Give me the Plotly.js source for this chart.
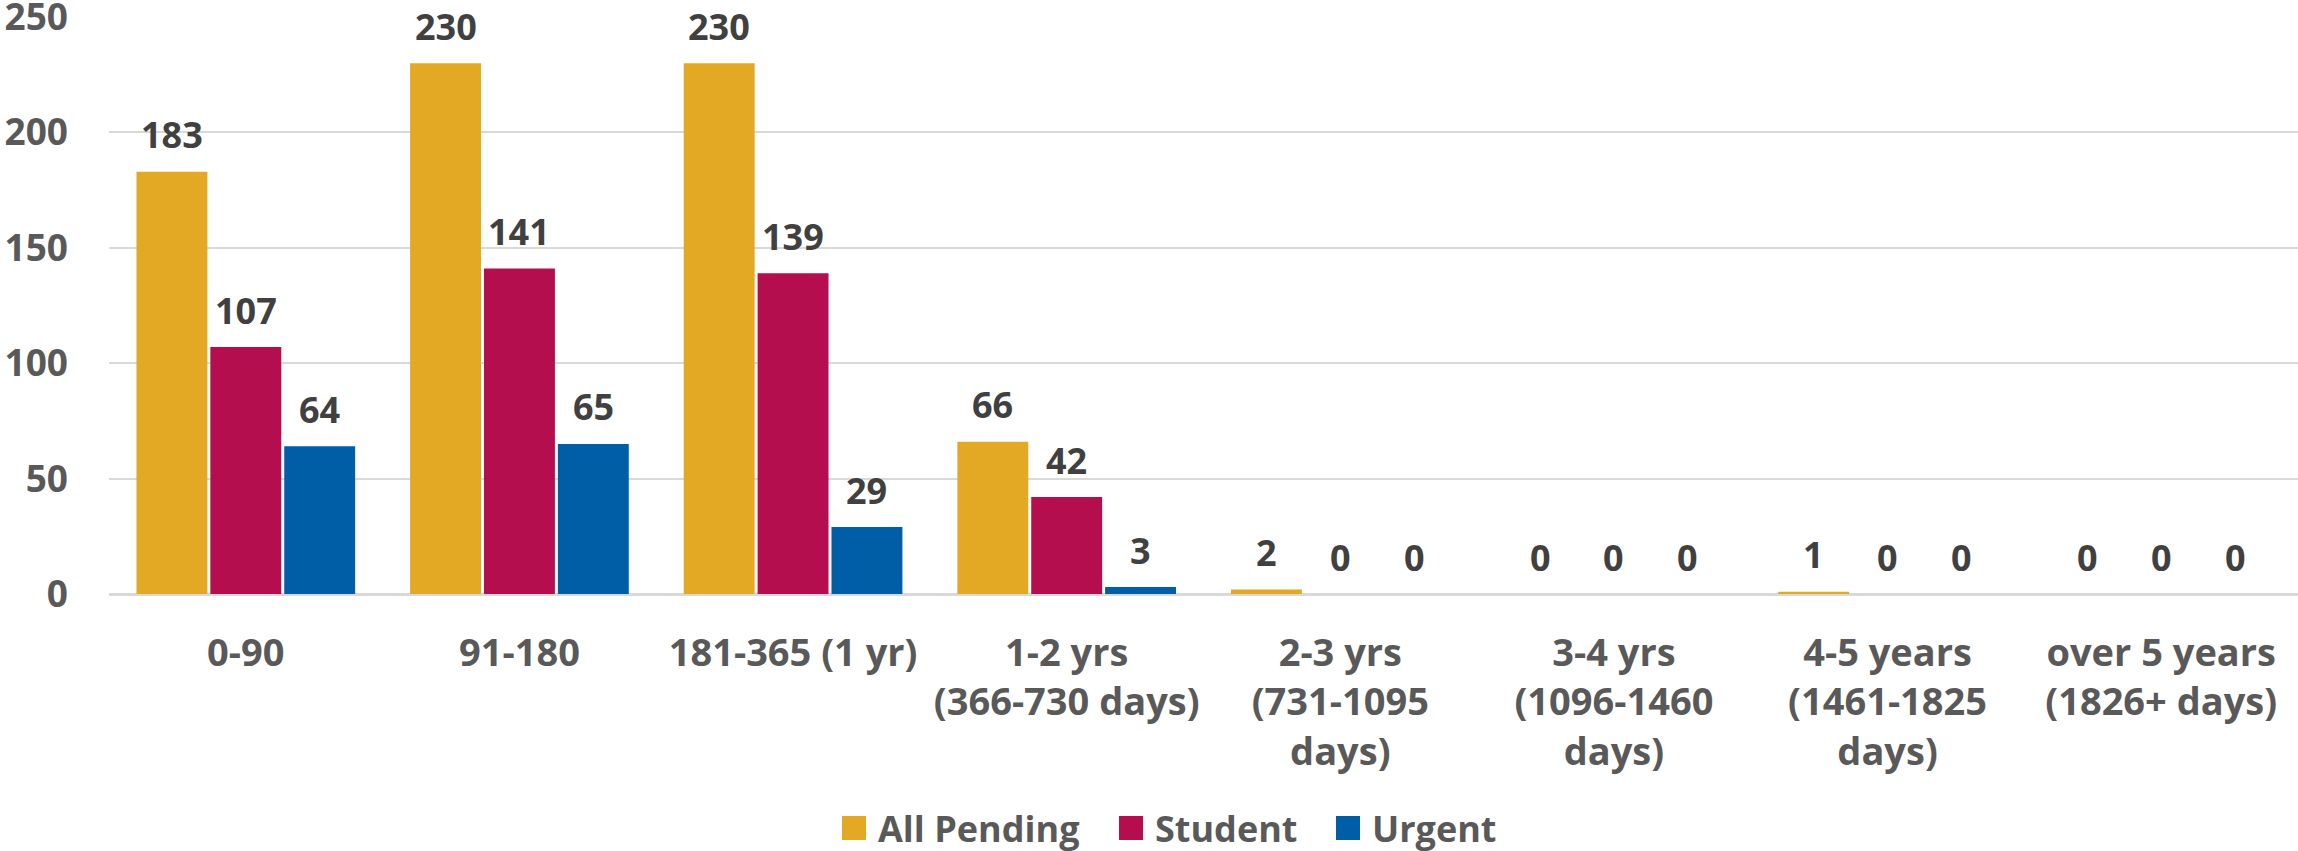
<!DOCTYPE html>
<html>
<head>
<meta charset="utf-8">
<script src="https://cdn.plot.ly/plotly-3.0.1.min.js"></script>
<style>
  html, body { margin: 0; padding: 0; background: #ffffff; }
  #chart { width: 2298px; height: 851px; }
</style>
</head>
<body>
<div id="chart"></div>
<script>
// ---- data ----
const categories = [
  "0-90",
  "91-180",
  "181-365 (1 yr)",
  "1-2 yrs<br>(366-730 days)",
  "2-3 yrs<br>(731-1095<br>days)",
  "3-4 yrs<br>(1096-1460<br>days)",
  "4-5 years<br>(1461-1825<br>days)",
  "over 5 years<br>(1826+ days)"
];
const seriesNames = ["All Pending", "Student", "Urgent"];
const allPending = [183, 230, 230, 66, 2, 0, 1, 0];
const student    = [107, 141, 139, 42, 0, 0, 0, 0];
const urgent     = [64, 65, 29, 3, 0, 0, 0, 0];
const seriesColors = ["#E3A824", "#B50E4E", "#005EA6"];
const yTicks = [0, 50, 100, 150, 200, 250];

// ---- chart ----
const W = 2298, H = 851;
const M = { l: 109, r: 0, t: 17, b: 257 };
const FONT = "'Open Sans', 'Noto Sans', sans-serif";
const BARGAP = 0.19;
const seriesValues = [allPending, student, urgent];
const xIdx = categories.map((c, i) => i);

const traces = seriesValues.map((vals, s) => ({
  type: "bar",
  name: seriesNames[s],
  x: xIdx,
  y: vals,
  marker: { color: seriesColors[s], line: { width: 0 } },
  hoverinfo: "skip",
  showlegend: false
}));

// data labels placed via the axis scale (category index + group offset)
const slot = (1 - BARGAP) / seriesValues.length;
const annotations = [];
seriesValues.forEach((vals, s) => {
  vals.forEach((v, i) => {
    annotations.push({
      x: i + (s - (seriesValues.length - 1) / 2) * slot,
      y: v,
      xref: "x", yref: "y",
      text: String(v),
      showarrow: false,
      xanchor: "center",
      yanchor: "middle",
      yshift: 37,
      font: { family: FONT, size: 36, color: "#404040", weight: 700 }
    });
  });
});

// legend (swatch + label), positioned in pixel layout converted to paper coords
const plotW = W - M.l - M.r, plotH = H - M.t - M.b;
const px2x = px => (px - M.l) / plotW;
const py2y = py => (H - M.b - py) / plotH;
const legendSwatchLeft = [842, 1119, 1336];
const legendCenterY = 828;
const SW = 24;
const shapes = [];
seriesNames.forEach((name, s) => {
  const x0 = legendSwatchLeft[s];
  shapes.push({
    type: "rect", xref: "paper", yref: "paper",
    x0: px2x(x0), x1: px2x(x0 + SW),
    y0: py2y(legendCenterY + SW / 2), y1: py2y(legendCenterY - SW / 2),
    fillcolor: seriesColors[s], line: { width: 0 }
  });
  annotations.push({
    xref: "paper", yref: "paper",
    x: px2x(x0 + SW + 10), y: py2y(legendCenterY),
    xanchor: "left", yanchor: "middle",
    text: name, showarrow: false,
    font: { family: FONT, size: 36, color: "#595959", weight: 700 }
  });
});

const layout = {
  width: W,
  height: H,
  margin: { l: M.l, r: M.r, t: M.t, b: M.b, pad: 0 },
  paper_bgcolor: "#ffffff",
  plot_bgcolor: "#ffffff",
  barmode: "group",
  bargap: BARGAP,
  bargroupgap: 0.04,
  showlegend: false,
  xaxis: {
    type: "linear",
    range: [-0.5, categories.length - 0.5],
    tickmode: "array",
    tickvals: xIdx,
    ticktext: categories,
    showgrid: false,
    zeroline: false,
    showline: false,
    ticks: "",
    ticklabelstandoff: 33,
    ticklabeloverflow: "allow",
    tickfont: { family: FONT, size: 38, color: "#595959", weight: 700 }
  },
  yaxis: {
    range: [0, 250],
    tickmode: "array",
    tickvals: yTicks,
    ticktext: yTicks.map(String),
    showgrid: true,
    gridcolor: "#D9D9D9",
    gridwidth: 2,
    zeroline: true,
    zerolinecolor: "#D9D9D9",
    zerolinewidth: 3,
    showline: false,
    ticks: "",
    ticklabelstandoff: 40,
    ticklabeloverflow: "allow",
    tickfont: { family: FONT, size: 37, color: "#595959", weight: 700 }
  },
  shapes: shapes,
  annotations: annotations
};

Plotly.newPlot("chart", traces, layout, { displayModeBar: false, staticPlot: true });
</script>
</body>
</html>
